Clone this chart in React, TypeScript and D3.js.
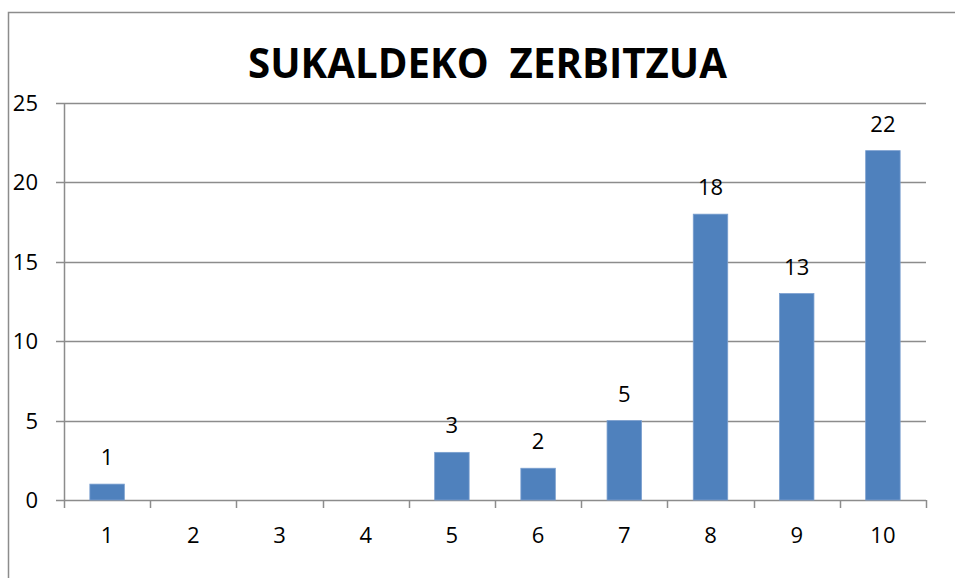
import React, { useRef, useEffect } from "react";
import * as d3 from "d3";

const CATEGORIES = ["1", "2", "3", "4", "5", "6", "7", "8", "9", "10"];
const VALUES = [1, 0, 0, 0, 3, 2, 5, 18, 13, 22];
const Y_TICKS = [0, 5, 10, 15, 20, 25];
const TITLE = "SUKALDEKO  ZERBITZUA";

export default function App() {
  const svgRef = useRef<SVGSVGElement>(null);

  useEffect(() => {
    const width = 955;
    const height = 578;
    const margin = { top: 103, right: 29, bottom: 78, left: 64 };
    const font = "'Open Sans', 'Liberation Sans', Arial, sans-serif";
    const grid = "#8c8c8c";

    const svg = d3.select(svgRef.current).attr("width", width).attr("height", height);
    svg.selectAll("*").remove();

    // outer chart frame (runs off the right and bottom edges)
    svg
      .append("path")
      .attr("d", `M8.5,${height + 5} V12.5 H${width + 5}`)
      .attr("fill", "none")
      .attr("stroke", grid)
      .attr("stroke-width", 1.5);

    const x = d3
      .scaleBand()
      .domain(CATEGORIES)
      .range([margin.left, width - margin.right]);

    const y = d3
      .scaleLinear()
      .domain([0, 25])
      .range([height - margin.bottom, margin.top]);

    // horizontal gridlines + y ticks
    svg
      .append("g")
      .selectAll("line")
      .data(Y_TICKS)
      .enter()
      .append("line")
      .attr("x1", margin.left - 8)
      .attr("x2", width - margin.right)
      .attr("y1", (d) => Math.round(y(d)) + 0.5)
      .attr("y2", (d) => Math.round(y(d)) + 0.5)
      .attr("stroke", grid)
      .attr("stroke-width", 1.5);

    // y axis line
    svg
      .append("line")
      .attr("x1", margin.left + 0.5)
      .attr("x2", margin.left + 0.5)
      .attr("y1", y(25))
      .attr("y2", y(0) + 8)
      .attr("stroke", grid)
      .attr("stroke-width", 1.5);

    // x tick marks at band boundaries
    const bounds = CATEGORIES.map((c) => x(c) as number).concat([width - margin.right]);
    svg
      .append("g")
      .selectAll("line")
      .data(bounds.slice(1))
      .enter()
      .append("line")
      .attr("x1", (d) => Math.round(d) + 0.5)
      .attr("x2", (d) => Math.round(d) + 0.5)
      .attr("y1", y(0))
      .attr("y2", y(0) + 8)
      .attr("stroke", grid)
      .attr("stroke-width", 1.5);

    // y labels
    svg
      .append("g")
      .selectAll("text")
      .data(Y_TICKS)
      .enter()
      .append("text")
      .attr("x", 38)
      .attr("y", (d) => y(d) + 8)
      .attr("text-anchor", "end")
      .style("font-family", font)
      .style("font-size", "22px")
      .text((d) => d);

    // x labels
    svg
      .append("g")
      .selectAll("text")
      .data(CATEGORIES)
      .enter()
      .append("text")
      .attr("x", (d) => (x(d) as number) + x.bandwidth() / 2)
      .attr("y", y(0) + 43)
      .attr("text-anchor", "middle")
      .style("font-family", font)
      .style("font-size", "22px")
      .text((d) => d);

    const barW = x.bandwidth() * 0.4;
    const data = CATEGORIES.map((c, i) => ({ cat: c, value: VALUES[i] }));

    // bars
    svg
      .append("g")
      .selectAll("rect")
      .data(data.filter((d) => d.value > 0))
      .enter()
      .append("rect")
      .attr("x", (d) => (x(d.cat) as number) + x.bandwidth() / 2 - barW / 2)
      .attr("y", (d) => y(d.value))
      .attr("width", barW)
      .attr("height", (d) => y(0) - y(d.value))
      .attr("fill", "#4f81bd")
      .attr("stroke", "#7a9fcf")
      .attr("stroke-width", 0.8);

    // value labels
    svg
      .append("g")
      .selectAll("text")
      .data(data.filter((d) => d.value > 0))
      .enter()
      .append("text")
      .attr("x", (d) => (x(d.cat) as number) + x.bandwidth() / 2)
      .attr("y", (d) => y(d.value) - 19)
      .attr("text-anchor", "middle")
      .style("font-family", font)
      .style("font-size", "22px")
      .text((d) => d.value);

    // title
    svg
      .append("text")
      .attr("x", 248)
      .attr("y", 78)
      .attr("textLength", 479)
      .attr("lengthAdjust", "spacingAndGlyphs")
      .style("font-family", font)
      .style("font-size", "42px")
      .style("font-weight", "bold")
      .style("white-space", "pre")
      .text(TITLE);
  }, []);

  return (
    <div style={{ position: "fixed", left: 0, top: 0, background: "#fff" }}>
      <svg ref={svgRef} style={{ display: "block" }}></svg>
    </div>
  );
}
